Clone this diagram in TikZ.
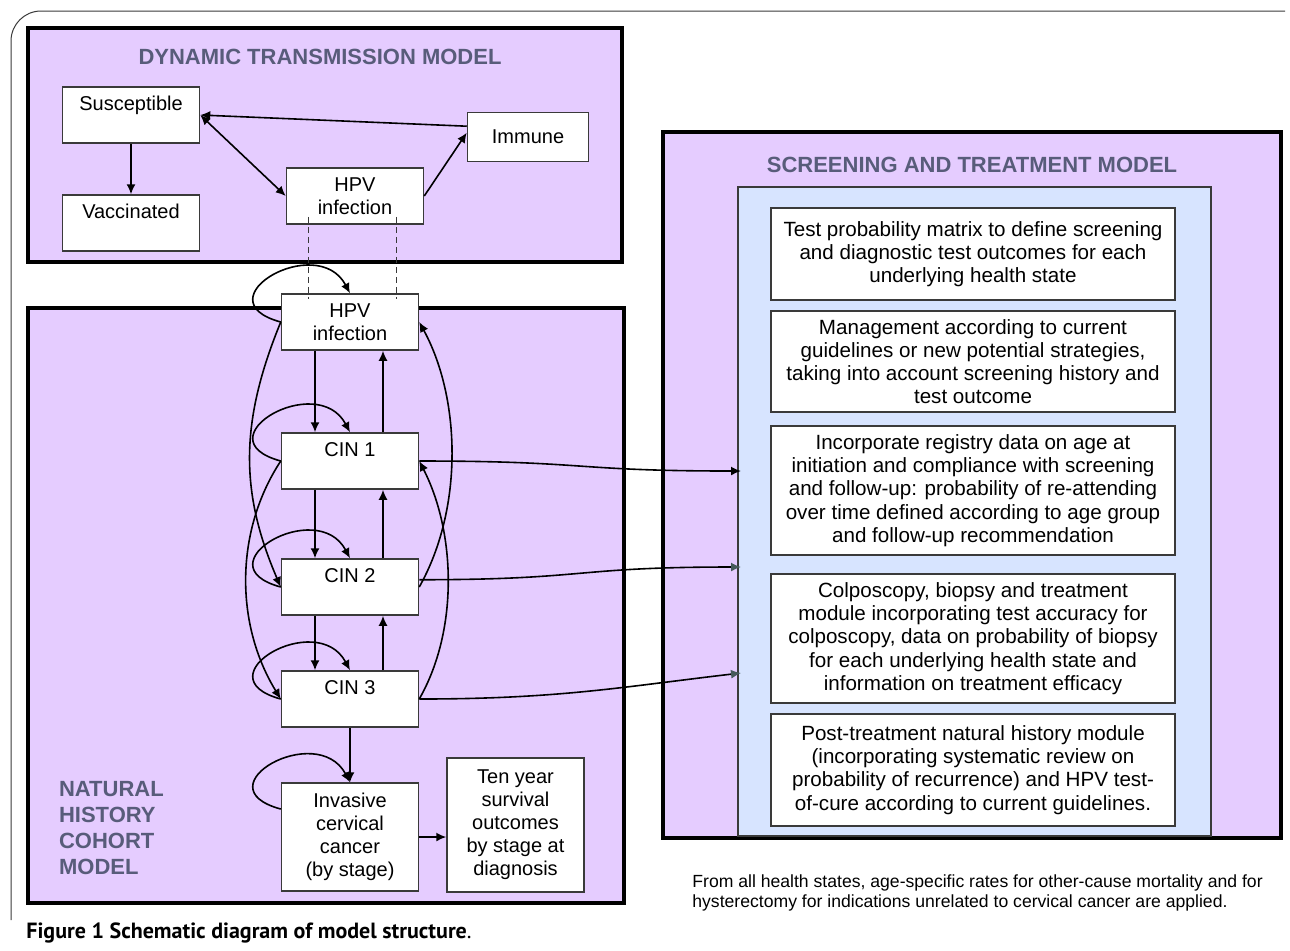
\documentclass[tikz,border=0pt]{standalone}
\usepackage{fontspec}
\setmainfont{Liberation Sans}
\newfontfamily\capfont{PT Sans}
\usetikzlibrary{arrows.meta,calc}

\definecolor{lilac}{RGB}{229,204,255}
\definecolor{paleblue}{RGB}{215,228,255}
\definecolor{headcol}{RGB}{88,92,122}
\definecolor{edgecol}{RGB}{58,58,58}
\definecolor{tipcol}{RGB}{70,90,90}

\begin{document}
\begin{tikzpicture}[x=0.5pt,y=-0.5pt,
  state/.style={draw=edgecol,line width=0.75pt,fill=white,minimum width=68.5pt,minimum height=28pt,align=center,inner sep=2pt,font=\fontsize{10}{11.5}\selectfont},
  module/.style={draw=edgecol,line width=0.75pt,fill=white,minimum width=202pt,align=center,inner sep=2pt,font=\fontsize{10.3}{11.6}\selectfont},
  heading/.style={text=headcol,font=\fontsize{11}{12.85}\selectfont\bfseries},
  panel/.style={draw=black,line width=2pt,fill=lilac},
  flow/.style={line width=0.8pt,-{Latex[length=5pt,width=4.5pt]}},
  grayflow/.style={line width=0.8pt,-{Latex[length=5pt,width=4.5pt,color=tipcol]}},
  twoway/.style={line width=0.8pt,{Latex[length=5pt,width=4.5pt]}-{Latex[length=5pt,width=4.5pt]}},
  link/.style={edgecol,line width=0.5pt,dash pattern=on 3pt off 2pt}]

\useasboundingbox (0,0) rectangle (1290,950);

% page frame
\draw[edgecol,line width=0.5pt,rounded corners=15] (1285,11) -- (11,11) -- (11,920);

% the three model panels
\draw[panel] (28,28) rectangle (622,262);
\draw[panel] (28,308) rectangle (624,903);
\draw[panel] (663,132) rectangle (1281,838);
\draw[edgecol,line width=0.75pt,fill=paleblue] (738,187) rectangle (1211,836);

\node[heading] (dtmtitle) at (320,57) {DYNAMIC TRANSMISSION MODEL};
\node[heading] (sttitle) at (972,165) {SCREENING AND TREATMENT MODEL};
\node[heading,align=left,anchor=west] (nhtitle) at (52,828) {NATURAL\\HISTORY\\COHORT\\MODEL};

% dynamic transmission states
\node[state] (sus) at (131,115) {Susceptible\\\mbox{}};
\node[state] (vac) at (131,223) {Vaccinated\\\mbox{}};
\node[state,minimum width=60.5pt,minimum height=24.5pt] (imm) at (528,137) {Immune};
\node[state] (hpvt) at (355,196) {HPV\\infection};

% natural history states
\node[state] (hpvb) at (350,322) {HPV\\infection};
\node[state] (cin1) at (350,461) {CIN 1\\\mbox{}};
\node[state] (cin2) at (350,587) {CIN 2\\\mbox{}};
\node[state] (cin3) at (350,699) {CIN 3\\\mbox{}};
\node[state,minimum height=54pt] (inv) at (350,837) {Invasive\\cervical\\cancer\\(by stage)};
\node[state,minimum height=67pt] (ten) at (515.5,825) {Ten year\\survival\\outcomes\\by stage at\\diagnosis};

% screening and treatment modules
\node[module,minimum height=46pt] (m1) at (973,254) {Test probability matrix to define screening\\and diagnostic test outcomes for each\\underlying health state};
\node[module,minimum height=50.5pt] (m2) at (973,361.5) {Management according to current\\guidelines or new potential strategies,\\taking into account screening history and\\test outcome};
\node[module,minimum height=64.5pt] (m3) at (973,490.5) {Incorporate registry data on age at\\initiation and compliance with screening\\and follow-up: probability of re-attending\\over time defined according to age group\\and follow-up recommendation};
\node[module,minimum height=64.5pt] (m4) at (973,638.5) {Colposcopy, biopsy and treatment\\module incorporating test accuracy for\\colposcopy, data on probability of biopsy\\for each underlying health state and\\information on treatment efficacy};
\node[module,minimum height=56pt] (m5) at (973,770) {Post-treatment natural history module\\(incorporating systematic review on\\probability of recurrence) and HPV test-\\of-cure according to current guidelines.};

\coordinate (in1) at (741,471);
\coordinate (in2) at (741,567);
\coordinate (in3) at (741,673);

\node[anchor=north west,align=left,inner sep=0pt,font=\fontsize{8.8}{10}\selectfont] (note) at (692,874) {From all health states, age-specific rates for other-cause mortality and for\\hysterectomy for indications unrelated to cervical cancer are applied.};
\node[anchor=west,inner sep=0pt,font=\capfont\fontsize{11}{13}\selectfont] (caption) at (26,933) {\textbf{Figure 1 Schematic diagram of model structure}.};

% transmission arrows
\draw[flow] (sus) -- (vac);
\draw[flow] (imm.170) -- (sus.east);
\draw[twoway] (sus.east) -- (hpvt.west);
\draw[flow] (hpvt.east) -- (imm.176);
\draw[link] ($(hpvt.south)+(-47,-8)$) -- ($(hpvb.north)+(-42,6)$);
\draw[link] ($(hpvt.south)+(41,-8)$) -- ($(hpvb.north)+(46,6)$);

% progression and regression
\draw[flow] ($(hpvb.south)+(-35,0)$) -- ($(cin1.north)+(-35,0)$);
\draw[flow] ($(cin1.north)+(33,0)$) -- ($(hpvb.south)+(33,0)$);
\draw[flow] ($(cin1.south)+(-35,0)$) -- ($(cin2.north)+(-35,0)$);
\draw[flow] ($(cin2.north)+(33,0)$) -- ($(cin1.south)+(33,0)$);
\draw[flow] ($(cin2.south)+(-35,0)$) -- ($(cin3.north)+(-35,0)$);
\draw[flow] ($(cin3.north)+(33,0)$) -- ($(cin2.south)+(33,0)$);
\draw[flow] (cin3) -- (inv);
\draw[flow] (inv.east) -- (inv.east -| ten.west);

% staying in the same state
\draw[flow] (hpvb.west) .. controls +(-81,-22) and +(-33,-62) .. (hpvb.north);
\draw[flow] (cin1.west) .. controls +(-81,-22) and +(-33,-62) .. (cin1.north);
\draw[flow] (cin2.west) .. controls +(-81,-22) and +(-33,-62) .. (cin2.north);
\draw[flow] (cin3.west) .. controls +(-81,-22) and +(-33,-62) .. (cin3.north);
\draw[flow] (inv.158) .. controls +(-81,-22) and +(-33,-62) .. (inv.north);

% skipping a state
\draw[flow] (hpvb.west) .. controls +(-41,100) and +(-41,-95) .. (cin2.west);
\draw[flow] (cin1.west) .. controls +(-46,70) and +(-46,-75) .. (cin3.west);
\draw[flow] (cin2.east) .. controls +(45,-80) and +(41,75) .. (hpvb.east);
\draw[flow] (cin3.east) .. controls +(40,-70) and +(36,70) .. (cin1.east);

% into the screening model
\draw[flow] (cin1.east) .. controls +(170,0) and +(-170,0) .. (in1);
\draw[grayflow] (cin2.6) .. controls +(170,0) and +(-170,0) .. (in2);
\draw[grayflow] (cin3.east) .. controls +(140,0) and +(-120,14) .. (in3);

\end{tikzpicture}
\end{document}
